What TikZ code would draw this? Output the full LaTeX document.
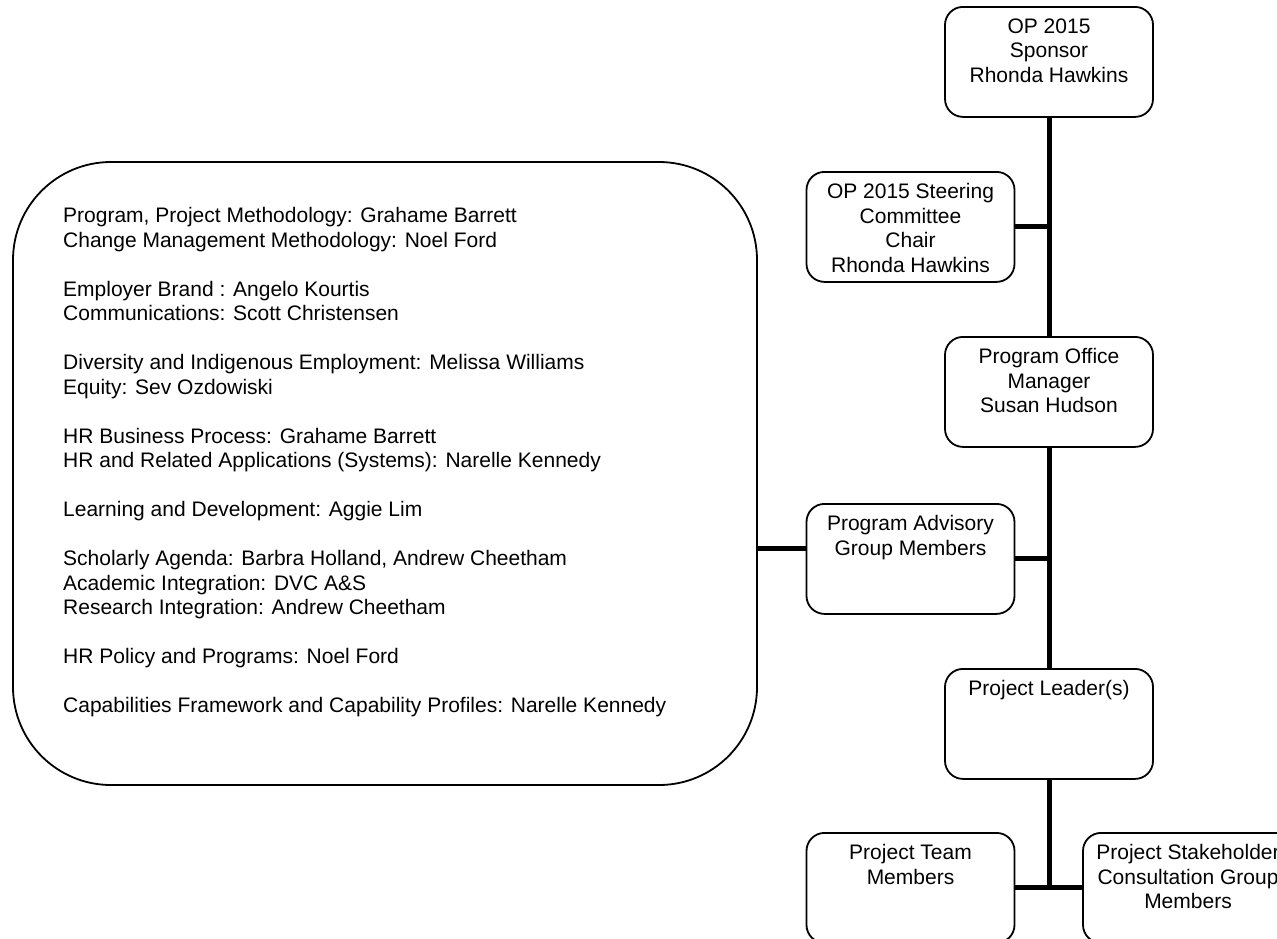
\documentclass[tikz,border=0pt]{standalone}
\usepackage{fontspec}
\setmainfont{Liberation Sans}
\begin{document}
\begin{tikzpicture}[x=1pt,y=-1pt,
  every node/.style={font=\fontsize{21}{24.5}\selectfont},
  orgbox/.style={draw, line width=1.8pt, rounded corners=18pt, anchor=north,
    minimum width=208pt, minimum height=110pt, inner sep=0pt},
  boxtext/.style={anchor=north, align=center, inner sep=0pt},
  panel/.style={draw, line width=1.8pt, rounded corners=98pt, inner sep=0pt},
  link/.style={line width=5pt}]
\useasboundingbox (0,0) rectangle (1277,938);
\fill[white] (0,0) rectangle (1277,938);
\clip (0,0) rectangle (1277,938);

% reporting chain: boxes
\node[orgbox] (sponsor) at (1049,6) {};
\node[orgbox] (steer) at (910.5,171) {};
\node[orgbox] (office) at (1049,336) {};
\node[orgbox] (adv) at (910.5,503) {};
\node[orgbox] (leader) at (1049,668) {};
\node[orgbox] (team) at (910.5,832) {};
\node[orgbox, minimum width=214pt] (stake) at (1190,832) {};

% reporting chain: captions, set from the top of each box
\node[boxtext] (sponsor-t) at ([yshift=-12.5pt]sponsor.north) {OP 2015\\Sponsor\\Rhonda Hawkins};
\node[boxtext] (steer-t) at ([yshift=-12.5pt]steer.north) {OP 2015 Steering\\Committee\\Chair\\Rhonda Hawkins};
\node[boxtext] (office-t) at ([yshift=-12.5pt]office.north) {Program Office\\Manager\\Susan Hudson};
\node[boxtext] (adv-t) at ([yshift=-12.5pt]adv.north) {Program Advisory\\Group Members};
\node[boxtext] (leader-t) at ([yshift=-12.5pt]leader.north) {Project Leader(s)};
\node[boxtext] (team-t) at ([yshift=-12.5pt]team.north) {Project Team\\Members};
\node[boxtext] (stake-t) at ([xshift=-2pt,yshift=-12.5pt]stake.north) {Project Stakeholder\\Consultation Group\\Members};

% advisory panel with its members
\node[panel, minimum width=744pt, minimum height=623pt] (pan) at (385,473.5) {};
\node[anchor=north west, align=left, inner sep=0pt] (roles) at (63,207.5) {%
Program, Project Methodology: Grahame Barrett\\
Change Management Methodology: Noel Ford\\[24.5pt]
Employer Brand : Angelo Kourtis\\
Communications: Scott Christensen\\[24.5pt]
Diversity and Indigenous Employment: Melissa Williams\\
Equity: Sev Ozdowiski\\[24.5pt]
HR Business Process: Grahame Barrett\\
HR and Related Applications (Systems): Narelle Kennedy\\[24.5pt]
Learning and Development: Aggie Lim\\[24.5pt]
Scholarly Agenda: Barbra Holland, Andrew Cheetham\\
Academic Integration: DVC A\&S\\
Research Integration: Andrew Cheetham\\[24.5pt]
HR Policy and Programs: Noel Ford\\[24.5pt]
Capabilities Framework and Capability Profiles: Narelle Kennedy};

% connectors
\draw[link] (sponsor.south) -- (office.north);
\draw[link] (office.south) -- (leader.north);
\draw[link] (leader.south) -- (leader.south |- team.east);
\draw[link] (steer.east) -- (steer.east -| sponsor.south);
\draw[link] (adv.east) -- (adv.east -| office.south);
\draw[link] (team.east) -- (stake.west);
\draw[link] ([yshift=10pt]adv.west) -- ([yshift=10pt]adv.west -| pan.east);
\end{tikzpicture}
\end{document}
